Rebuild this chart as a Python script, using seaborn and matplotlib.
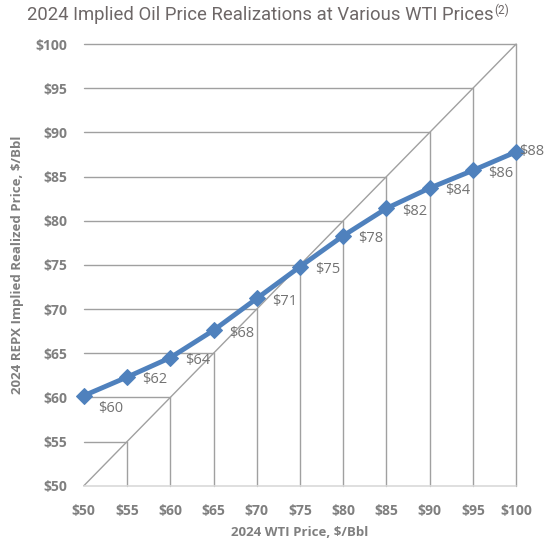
import numpy as np
import pandas as pd
import matplotlib
matplotlib.use("Agg")
import matplotlib.pyplot as plt
import seaborn as sns

# Data
wti = [50, 55, 60, 65, 70, 75, 80, 85, 90, 95, 100]
realized = [60.2, 62.3, 64.5, 67.6, 71.2, 74.8, 78.3, 81.4, 83.7, 85.7, 87.8]
point_labels = ["$60", "$62", "$64", "$68", "$71", "$75", "$78", "$82", "$84", "$86", "$88"]
tick_vals = [50, 55, 60, 65, 70, 75, 80, 85, 90, 95, 100]
tick_labels = ["$" + str(v) for v in tick_vals]

df = pd.DataFrame({"wti": wti, "realized": realized})

sns.set_theme(style="white")
plt.rcParams["font.family"] = ["Open Sans", "DejaVu Sans"]

grey_txt = "#7f7f7f"
grid_col = "#a0a0a0"
blue = "#4f81bd"

fig = plt.figure(figsize=(5.55, 5.44), dpi=100)
ax = fig.add_axes([0.151, 0.107, 0.779, 0.812])

# reference grid: y = x diagonal with drop lines
ax.plot([50, 100], [50, 100], color=grid_col, lw=1, zorder=1)
for v in tick_vals[1:]:
    ax.plot([v, v], [50, v], color=grid_col, lw=1, zorder=1)
    ax.plot([50, v], [v, v], color=grid_col, lw=1, zorder=1)
ax.axhline(50, color="#d9d9d9", lw=1.2, zorder=1)

sns.lineplot(data=df, x="wti", y="realized", ax=ax, color=blue, lw=3.5,
             marker="D", markersize=8.5, markeredgecolor=blue, zorder=3)
for ln in ax.lines:
    ln.set_clip_on(False)

for i, (x, y, t) in enumerate(zip(wti, realized, point_labels)):
    dx, dy = 11, -2
    if i == 0:
        dx, dy = 10, -9
    if i == len(wti) - 1:
        dx, dy = 2, 0
    ax.annotate(t, (x, y), xytext=(dx, dy), textcoords="offset points",
                ha="left", va="center", fontsize=10.5, color="#737373")

ax.set_xlim(50, 100)
ax.set_ylim(50, 100)
ax.set_xticks(tick_vals)
ax.set_xticklabels(tick_labels)
ax.set_yticks(tick_vals)
ax.set_yticklabels(tick_labels)
ax.tick_params(axis="x", length=0, labelsize=10, labelcolor=grey_txt, pad=13)
ax.tick_params(axis="y", length=0, labelsize=10, labelcolor=grey_txt, pad=12)
for lab in ax.get_xticklabels() + ax.get_yticklabels():
    lab.set_fontweight("bold")
for s in ax.spines.values():
    s.set_visible(False)

ax.set_xlabel("2024 WTI Price, $/Bbl", fontsize=9.5, fontweight="bold",
              color=grey_txt, labelpad=6)
ax.set_ylabel("2024 REPX Implied Realized Price, $/Bbl", fontsize=9.5,
              fontweight="bold", color=grey_txt, labelpad=8)

title = fig.text(0.048, 0.972, "2024 Implied Oil Price Realizations at Various WTI Prices",
                 fontsize=13.3, color="#6d6767", va="center", ha="left",
                 family=["Roboto", "DejaVu Sans"])
ax.annotate("(2)", xy=(1.0, 0.8), xycoords=title, xytext=(1, 0),
            textcoords="offset points", ha="left", va="center",
            fontsize=8.5, color="#6d6767", family=["Roboto", "DejaVu Sans"],
            annotation_clip=False)

fig.savefig("out.png", dpi=100)
